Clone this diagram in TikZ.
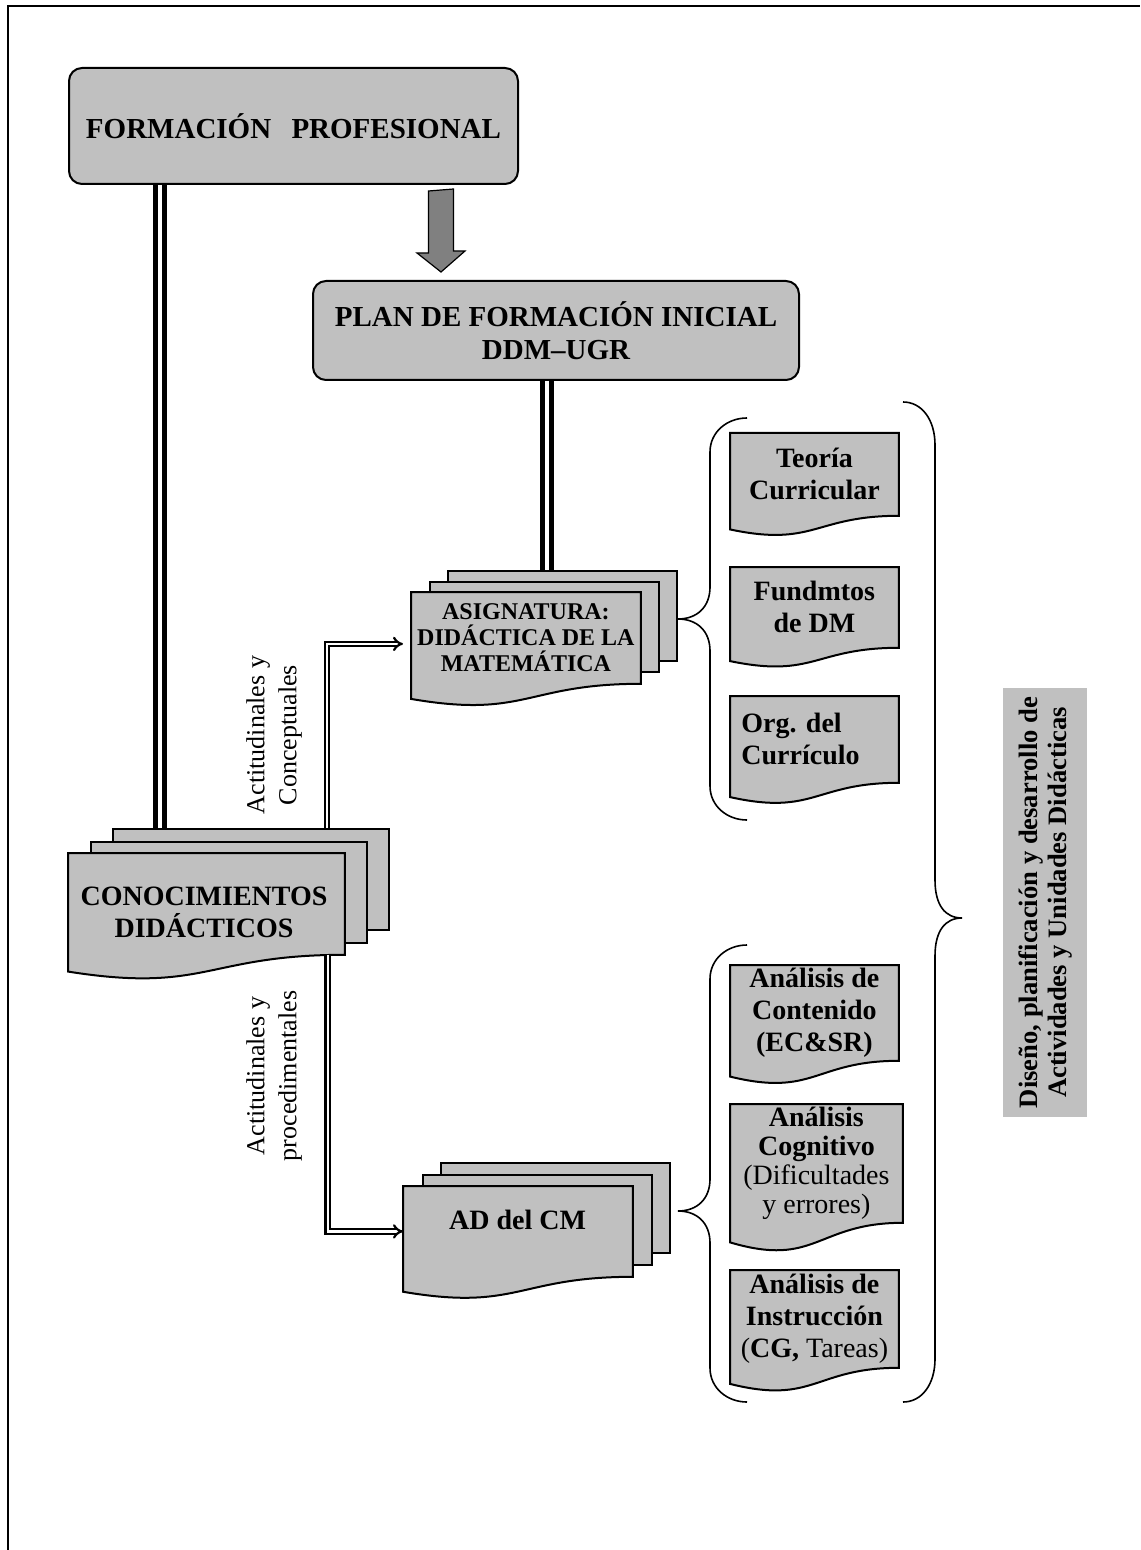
\documentclass[tikz,border=0pt]{standalone}
\usepackage{fontspec}
\setmainfont{Liberation Serif}
\usetikzlibrary{arrows.meta,calc}
\definecolor{boxgray}{HTML}{C0C0C0}
\definecolor{arrowgray}{HTML}{808080}
\pgfdeclarelayer{bg}
\pgfsetlayers{bg,main}

% outline of a "document" sheet: the node is the text area, the wavy edge hangs below it
\newcommand\docoutline[1]{%
  \begin{pgfonlayer}{bg}
    \path[docshape] let \p1=(#1.north west), \p2=(#1.south east), \n1={\y1-\y2} in
      (\p1) -- (\x2,\y1) -- (\p2)
      .. controls ({0.5*\x1+0.5*\x2},\y2) and ({0.5*\x1+0.5*\x2},{\y2-0.381*\n1}) ..
      (\x1,{\y2-0.1646*\n1}) -- cycle;
  \end{pgfonlayer}}

\tikzset{
  boxtxt/.style={font=\fontsize{14}{16}\selectfont\bfseries, align=center},
  rbox/.style={draw, line width=1pt, fill=boxgray, rounded corners=6.5pt,
               inner sep=0pt, anchor=north west, boxtxt},
  page/.style={draw, line width=1pt, fill=boxgray, inner sep=0pt, anchor=north west},
  docnode/.style={inner sep=0pt, anchor=north west, boxtxt},
  docshape/.style={draw, line width=1pt, fill=boxgray},
  triple/.style={line width=2.6pt, double=white, double distance=2.2pt},
  dbl/.style={line width=1.1pt, double=white, double distance=1.2pt, -{Implies}},
  brace/.style={line width=0.8pt},
  blockarr/.style={draw, line width=0.6pt, fill=arrowgray},
  sidelabel/.style={rotate=90, align=center, font=\fontsize{13}{16}\selectfont},
}

\begin{document}
\begin{tikzpicture}[x=0.5pt,y=-0.5pt]
\useasboundingbox (0,0) rectangle (1140,1550);

% page frame
\draw[line width=1pt] (7.5,1550) -- (7.5,6.5) -- (1140,6.5);

% top boxes
\node[rbox, minimum width=224.5pt, minimum height=58pt,
      font=\fontsize{14.5}{17}\selectfont\bfseries] (form) at (68,67)
  {FORMACIÓN\hspace{0.7em}PROFESIONAL};
\node[rbox, minimum width=243pt, minimum height=49.5pt,
      font=\fontsize{14.5}{16.5}\selectfont\bfseries] (plan) at (312,280)
  {PLAN DE FORMACIÓN INICIAL\\DDM–UGR};

% stack: asignatura
\begin{pgfonlayer}{bg}
  \node[page, minimum width=114.5pt, minimum height=45pt] (asigB3) at (447,570) {};
  \node[page, minimum width=114.5pt, minimum height=45pt] (asigB2) at (429,581) {};
\end{pgfonlayer}
\node[docnode, minimum width=114.5pt, minimum height=45.5pt,
      font=\fontsize{12}{13}\selectfont\bfseries] (asigF) at (411,592)
  {ASIGNATURA:\\DIDÁCTICA DE LA\\MATEMÁTICA};
\docoutline{asigF}

% stack: conocimientos
\begin{pgfonlayer}{bg}
  \node[page, minimum width=138pt, minimum height=50.5pt] (conB3) at (112,828) {};
  \node[page, minimum width=138pt, minimum height=50.5pt] (conB2) at (90,840.5) {};
\end{pgfonlayer}
\node[docnode, minimum width=138pt, minimum height=50.5pt] (conF) at (68,853) {};
\docoutline{conF}
\node[boxtxt, inner sep=0pt] (conT) at (204,912.5) {CONOCIMIENTOS\\DIDÁCTICOS};

% stack: AD del CM
\begin{pgfonlayer}{bg}
  \node[page, minimum width=114.5pt, minimum height=45pt] (adB3) at (440,1162) {};
  \node[page, minimum width=114.5pt, minimum height=45pt] (adB2) at (422,1174) {};
\end{pgfonlayer}
\node[docnode, minimum width=114.5pt, minimum height=45pt] (adF) at (403,1186) {};
\docoutline{adF}
\node[boxtxt, inner sep=0pt] (adT) at (517.5,1220) {AD del CM};

% upper column of sheets
\node[docnode, minimum width=84pt, minimum height=41pt] (teo) at (730,433) {Teoría\\Curricular};
\docoutline{teo}
\node[docnode, minimum width=84pt, minimum height=40pt] (fund) at (730,567) {Fundmtos\\de DM};
\docoutline{fund}
\node[docnode, minimum width=84pt, minimum height=43pt, text width=73pt, align=left] (org) at (730,696) {Org.\ del\\Currículo};
\docoutline{org}

% lower column of sheets
\node[docnode, minimum width=84pt, minimum height=47.5pt] (cont) at (730,965) {Análisis de\\Contenido\\(EC\&SR)};
\docoutline{cont}
\node[docnode, minimum width=86pt, minimum height=59pt,
      font=\fontsize{14}{14.5}\selectfont\bfseries] (cogn) at (730,1104)
  {Análisis\\Cognitivo\\{\mdseries (Dificultades}\\{\mdseries y errores)}};
\docoutline{cogn}
\node[docnode, minimum width=84pt, minimum height=48.5pt] (instr) at (730,1270)
  {Análisis de\\Instrucción\\{\mdseries(}CG, {\mdseries Tareas)}};
\docoutline{instr}

% side caption
\node[rotate=90, fill=boxgray, inner sep=0pt, minimum width=214.5pt, minimum height=42pt,
      align=center, font=\fontsize{13.3}{14.5}\selectfont\bfseries] (cap) at (1045,902.5)
  {Diseño, planificación y desarrollo de\\Actividades y Unidades Didácticas};

% link labels
\node[sidelabel] (lab1) at (274,735) {Actitudinales y\\Conceptuales};
\node[sidelabel] (lab2) at (274,1076) {Actitudinales y\\procedimentales};

% connectors
\coordinate (c1) at ([xshift=24pt]conB3.north west);
\draw[triple] (form.south -| c1) -- (c1);
\coordinate (c2) at ([xshift=50pt]asigB3.north west);
\draw[triple] (plan.south -| c2) -- (c2);

\coordinate (atip) at ([xshift=64.5pt,yshift=4pt]plan.north west);
\path (form.south -| atip) ++(0,6) coordinate (atail);
\draw[blockarr] (atail) ++(-12.5,0) -- ++(0,62) -- ++(-11.5,0) -- (atip)
  -- ++(24,-21) -- ++(-11.5,0) -- ++(0,-62) -- cycle;

\coordinate (c3) at ([xshift=107.5pt]conB3.north west);
\coordinate (c4) at ([yshift=-3pt]asigF.west);
\draw[dbl, shorten >=4pt] (c3) |- (c4);
\coordinate (c5) at ([xshift=-8.5pt]conF.south east);
\draw[dbl] (c5) |- (adF.west);

% braces
\draw[brace] (747,418) .. controls (727,418) and (710,432) .. (710,452) -- (710,587)
  .. controls (710,607) and (697,619) .. (678,619)
  .. controls (697,619) and (710,631) .. (710,651) -- (710,786)
  .. controls (710,806) and (727,820) .. (747,820);
\draw[brace] (747,945) .. controls (727,945) and (710,959) .. (710,979) -- (710,1179)
  .. controls (710,1199) and (697,1211) .. (678,1211)
  .. controls (697,1211) and (710,1223) .. (710,1243) -- (710,1368)
  .. controls (710,1388) and (727,1402) .. (747,1402);
\draw[brace] (903,402) .. controls (922,402) and (935,420) .. (935,445) -- (935,880)
  .. controls (935,905) and (945,918) .. (962,918)
  .. controls (945,918) and (935,931) .. (935,956) -- (935,1359)
  .. controls (935,1384) and (922,1402) .. (903,1402);
\end{tikzpicture}
\end{document}
